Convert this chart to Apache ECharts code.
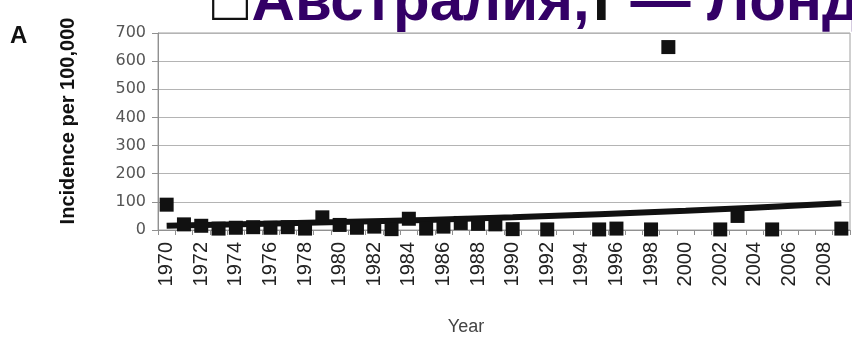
<!DOCTYPE html>
<html>
<head>
<meta charset="utf-8">
<script src="https://cdn.jsdelivr.net/npm/echarts@6/dist/echarts.min.js"></script>
<style>
  html, body { margin: 0; padding: 0; background: #fff; }
  #chart { width: 852px; height: 340px; }
</style>
</head>
<body>
<div id="chart"></div>
<script>
// Years on the category axis (one band per year)
const years = ['1970','1971','1972','1973','1974','1975','1976','1977','1978','1979',
               '1980','1981','1982','1983','1984','1985','1986','1987','1988','1989',
               '1990','1991','1992','1993','1994','1995','1996','1997','1998','1999',
               '2000','2001','2002','2003','2004','2005','2006','2007','2008','2009'];

// Incidence per 100,000 for each year (null = no observation)
const incidence = [90, 20, 15, 5, 8, 10, 8, 10, 5, 45,
                   18, 8, 12, 3, 40, 5, 12, 25, 22, 20,
                   3, null, 2, null, null, 2, 5, null, 2, 650,
                   null, null, 2, 50, null, 2, null, null, null, 5];

// Fitted trend, sampled at a few years
const trendYears = ['1970', '1980', '1990', '2000', '2009'];
const trendValues = [15, 28, 45, 68, 95];

// Value axis ticks
const yTicks = [0, 100, 200, 300, 400, 500, 600, 700];

const chart = echarts.init(document.getElementById('chart'));

chart.setOption({
  animation: false,
  backgroundColor: '#ffffff',
  grid: {
    left: 158, right: 2, top: 33, bottom: 110,
    show: true, borderColor: '#a0a0a0', borderWidth: 1
  },
  xAxis: {
    type: 'category',
    data: years,
    boundaryGap: true,
    axisLine: { lineStyle: { color: '#909090', width: 1 } },
    axisTick: { show: true, interval: 0, length: 5, lineStyle: { color: '#909090' } },
    axisLabel: {
      interval: 1,
      rotate: 90,
      margin: 12,
      color: '#222',
      fontFamily: 'Liberation Sans',
      fontSize: 20
    }
  },
  yAxis: {
    type: 'value',
    min: yTicks[0],
    max: yTicks[yTicks.length - 1],
    interval: 100,
    axisLine: { show: true, lineStyle: { color: '#909090' } },
    axisTick: { show: true, length: 6, lineStyle: { color: '#909090' } },
    splitLine: { lineStyle: { color: '#b4b4b4', width: 1 } },
    axisLabel: {
      margin: 12,
      color: '#555',
      fontFamily: 'DejaVu Sans',
      fontSize: 16
    }
  },
  series: [
    {
      type: 'line',
      data: trendYears.map((y, i) => [y, trendValues[i]]),
      smooth: 0.3,
      symbol: 'none',
      lineStyle: { color: '#111', width: 6 },
      z: 2
    },
    {
      type: 'scatter',
      data: incidence,
      symbol: 'rect',
      symbolSize: 14,
      itemStyle: { color: '#111', opacity: 1 },
      z: 3
    }
  ],
  graphic: [
    {
      type: 'text', left: 10, top: 24,
      style: { text: 'A', font: 'bold 24px "Liberation Sans"', fill: '#111' }
    },
    {
      type: 'text', x: 68, y: 121, rotation: Math.PI / 2,
      style: {
        text: 'Incidence per 100,000', font: 'bold 20px "Liberation Sans"', fill: '#111',
        align: 'center', verticalAlign: 'middle'
      }
    },
    {
      type: 'text', x: 466, y: 327,
      style: {
        text: 'Year', font: '18px "Liberation Sans"', fill: '#444',
        align: 'center', verticalAlign: 'middle'
      }
    },
    {
      type: 'text', x: 212, y: 33,
      style: {
        rich: {
          k: { font: 'bold 60px "Liberation Sans"', fill: '#111' },
          p: { font: 'bold 60px "Liberation Sans"', fill: '#330066' }
        },
        text: '{k|□} {p|Австралия,} {k|Г} {p|— Лондон}',
        verticalAlign: 'bottom'
      }
    }
  ]
});
</script>
</body>
</html>
